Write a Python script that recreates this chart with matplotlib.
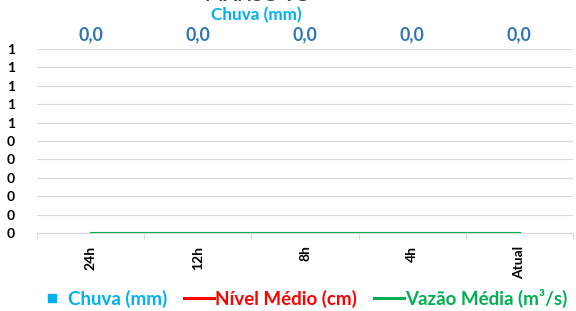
import matplotlib.pyplot as plt
from matplotlib.lines import Line2D
import numpy as np

# Chart data
categories = ['24h', '12h', '8h', '4h', 'Atual']
chuva = [0.0, 0.0, 0.0, 0.0, 0.0]
nivel = [0.0, 0.0, 0.0, 0.0, 0.0]
vazao = [0.0, 0.0, 0.0, 0.0, 0.0]
y_ticks = [0.0, 0.1, 0.2, 0.3, 0.4, 0.5, 0.6, 0.7, 0.8, 0.9, 1.0]

font = 'Lato'
cyan = '#00B0F0'
red = '#FF0000'
green = '#00B050'
label_blue = '#2E75B6'

fig = plt.figure(figsize=(5.76, 3.11), dpi=100)
ax = fig.add_axes([37 / 576, 1 - 233 / 311, (573 - 37) / 576, (233 - 49) / 311])

x = np.arange(len(categories))
ax.bar(x, chuva, width=0.6, color=cyan, zorder=2)
l_nivel, = ax.plot(x, nivel, color=red, lw=2.2, zorder=3)
l_vazao, = ax.plot(x, vazao, color=green, lw=2.2, zorder=4)

ax.set_xlim(-0.5, len(categories) - 0.5)
ax.set_ylim(0, 1)
ax.set_yticks(y_ticks)
ax.set_yticklabels(['%d' % round(v) for v in y_ticks], fontsize=10, fontweight='bold', family=font)
ax.yaxis.grid(True, color='#D9D9D9', lw=0.8, zorder=0)
ax.tick_params(axis='y', length=0, pad=16)

# category labels at centres, tick marks at boundaries
ax.set_xticks(x)
ax.set_xticklabels(categories, rotation=90, fontsize=10, fontweight='bold', family=font, va='top')
ax.tick_params(axis='x', length=0, pad=9)
ax.set_xticks(np.arange(len(categories) + 1) - 0.5, minor=True)
ax.tick_params(axis='x', which='minor', length=4, color='#D9D9D9', width=0.8)

for side in ['top', 'right', 'left']:
    ax.spines[side].set_visible(False)
ax.spines['bottom'].set_color('#D9D9D9')
ax.spines['bottom'].set_linewidth(0.8)

# chuva value labels above the plot area
trans = ax.get_xaxis_transform()
for xi, v in zip(x, chuva):
    ax.text(xi, 1.08, ('%.1f' % v).replace('.', ','), transform=trans, ha='center', va='center',
            fontsize=12.8, fontweight='bold', color=label_blue, family=font)

fig.text(256 / 576, 1 - 15 / 311, 'Chuva (mm)', ha='center', va='center', fontsize=12.3,
         fontweight='bold', color=cyan, family=font)
# title is cut off at the top edge in the original
fig.text(256 / 576, 1 + 4 / 311, 'MANSO TC', ha='center', va='center', fontsize=14,
         fontweight='bold', color='#404040', family=font)

chuva_handle = Line2D([], [], marker='s', color=cyan, ls='none', markersize=6)
leg = fig.legend([chuva_handle, l_nivel, l_vazao],
                 ['Chuva (mm)', 'Nível Médio (cm)', 'Vazão Média (m³/s)'],
                 loc='center', bbox_to_anchor=(302 / 576, 1 - 298 / 311), ncol=3, frameon=False,
                 prop={'family': font, 'weight': 'bold', 'size': 13.5},
                 handlelength=1.6, handletextpad=0.05, columnspacing=0.9)
for txt, col in zip(leg.get_texts(), [cyan, red, green]):
    txt.set_color(col)

fig.savefig('out.png', dpi=100)
